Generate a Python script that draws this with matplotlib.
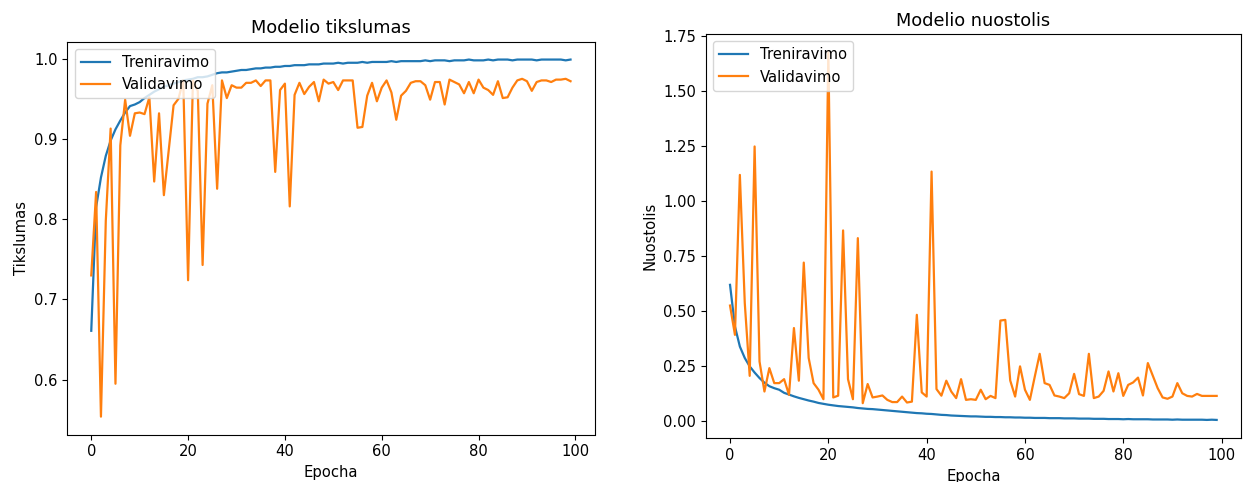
import matplotlib
matplotlib.use("Agg")
import matplotlib.pyplot as plt

plt.rcParams["font.size"] = 10.6
plt.rcParams["axes.titlesize"] = 12.8
plt.rcParams["lines.linewidth"] = 1.6

epochs = list(range(100))

train_acc = [
    0.661, 0.815, 0.852, 0.879, 0.898, 0.912, 0.923, 0.933, 0.941, 0.943,
    0.946, 0.951, 0.955, 0.959, 0.962, 0.965, 0.967, 0.969, 0.971, 0.973,
    0.974, 0.975, 0.977, 0.977, 0.978, 0.980, 0.982, 0.983, 0.983, 0.984,
    0.985, 0.986, 0.986, 0.987, 0.988, 0.988, 0.989, 0.989, 0.990, 0.990,
    0.991, 0.991, 0.992, 0.992, 0.992, 0.993, 0.993, 0.993, 0.994, 0.994,
    0.994, 0.995, 0.994, 0.995, 0.995, 0.995, 0.996, 0.995, 0.996, 0.996,
    0.996, 0.996, 0.997, 0.996, 0.997, 0.997, 0.997, 0.997, 0.997, 0.998,
    0.997, 0.998, 0.998, 0.998, 0.997, 0.998, 0.998, 0.998, 0.999, 0.998,
    0.998, 0.998, 0.999, 0.998, 0.999, 0.999, 0.999, 0.998, 0.999, 0.999,
    0.999, 0.999, 0.998, 0.999, 0.999, 0.999, 0.999, 0.999, 0.998, 0.999,
]

val_acc = [
    0.730, 0.834, 0.554, 0.798, 0.913, 0.595, 0.892, 0.949, 0.904, 0.932,
    0.933, 0.931, 0.952, 0.847, 0.932, 0.830, 0.886, 0.942, 0.950, 0.973,
    0.724, 0.973, 0.960, 0.743, 0.944, 0.967, 0.838, 0.973, 0.951, 0.967,
    0.964, 0.964, 0.970, 0.970, 0.973, 0.966, 0.973, 0.973, 0.859, 0.961,
    0.969, 0.816, 0.955, 0.970, 0.956, 0.965, 0.971, 0.947, 0.974, 0.969,
    0.971, 0.961, 0.973, 0.973, 0.973, 0.914, 0.915, 0.954, 0.970, 0.947,
    0.964, 0.973, 0.958, 0.924, 0.954, 0.960, 0.970, 0.972, 0.972, 0.967,
    0.949, 0.971, 0.971, 0.943, 0.974, 0.971, 0.968, 0.957, 0.971, 0.957,
    0.974, 0.964, 0.961, 0.955, 0.972, 0.951, 0.952, 0.964, 0.973, 0.975,
    0.972, 0.960, 0.971, 0.973, 0.973, 0.971, 0.974, 0.974, 0.975, 0.972,
]

train_loss = [
    0.620, 0.431, 0.340, 0.288, 0.250, 0.222, 0.197, 0.176, 0.160, 0.151,
    0.144, 0.130, 0.122, 0.114, 0.107, 0.101, 0.095, 0.090, 0.084, 0.080,
    0.076, 0.073, 0.070, 0.068, 0.066, 0.064, 0.061, 0.059, 0.057, 0.056,
    0.054, 0.052, 0.050, 0.048, 0.046, 0.044, 0.042, 0.040, 0.038, 0.037,
    0.035, 0.034, 0.032, 0.030, 0.029, 0.027, 0.026, 0.025, 0.024, 0.023,
    0.023, 0.022, 0.021, 0.021, 0.020, 0.020, 0.019, 0.019, 0.018, 0.018,
    0.017, 0.017, 0.016, 0.016, 0.016, 0.015, 0.015, 0.015, 0.014, 0.014,
    0.014, 0.013, 0.013, 0.013, 0.012, 0.012, 0.012, 0.011, 0.011, 0.011,
    0.010, 0.011, 0.010, 0.010, 0.010, 0.010, 0.009, 0.009, 0.009, 0.009,
    0.008, 0.009, 0.008, 0.008, 0.008, 0.008, 0.008, 0.007, 0.008, 0.007,
]

val_loss = [
    0.526, 0.393, 1.119, 0.537, 0.207, 1.248, 0.272, 0.136, 0.242, 0.174,
    0.174, 0.192, 0.121, 0.424, 0.185, 0.721, 0.288, 0.174, 0.144, 0.101,
    1.675, 0.109, 0.117, 0.867, 0.192, 0.101, 0.832, 0.083, 0.170, 0.109,
    0.113, 0.118, 0.098, 0.088, 0.088, 0.113, 0.086, 0.090, 0.484, 0.132,
    0.113, 1.134, 0.147, 0.117, 0.185, 0.136, 0.106, 0.192, 0.098, 0.101,
    0.098, 0.144, 0.101, 0.116, 0.106, 0.458, 0.461, 0.186, 0.113, 0.250,
    0.144, 0.098, 0.204, 0.307, 0.174, 0.166, 0.118, 0.113, 0.106, 0.128,
    0.216, 0.124, 0.116, 0.307, 0.106, 0.113, 0.139, 0.227, 0.136, 0.219,
    0.116, 0.166, 0.177, 0.199, 0.118, 0.265, 0.208, 0.151, 0.109, 0.103,
    0.113, 0.174, 0.128, 0.116, 0.113, 0.125, 0.116, 0.116, 0.116, 0.116,
]

W, H = 1248, 482
fig = plt.figure(figsize=(W / 100, H / 100), dpi=100)


def px_axes(left, top, right, bottom):
    return fig.add_axes([left / W, 1 - bottom / H, (right - left) / W, (bottom - top) / H])


ax1 = px_axes(67.3, 41.7, 594.5, 434.5)
ax1.plot(epochs, train_acc, label="Treniravimo")
ax1.plot(epochs, val_acc, label="Validavimo")
ax1.set_title("Modelio tikslumas")
ax1.set_xlabel("Epocha")
ax1.set_ylabel("Tikslumas")
ax1.legend(loc="upper left")

ax2 = px_axes(705.7, 34.0, 1241.0, 438.3)
ax2.plot(epochs, train_loss, label="Treniravimo")
ax2.plot(epochs, val_loss, label="Validavimo")
ax2.set_title("Modelio nuostolis")
ax2.set_xlabel("Epocha")
ax2.set_ylabel("Nuostolis")
ax2.legend(loc="upper left")

fig.savefig("out.png", dpi=100)
